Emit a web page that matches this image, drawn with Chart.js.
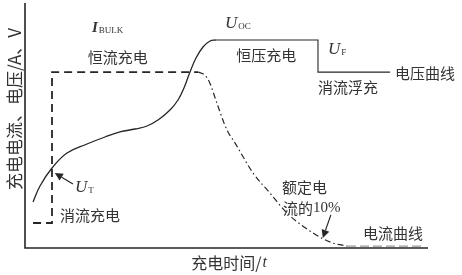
<!DOCTYPE html>
<html>
<head>
<meta charset="utf-8">
<script src="https://cdn.jsdelivr.net/npm/chart.js@4/dist/chart.umd.min.js"></script>
<style>
  html, body { margin: 0; padding: 0; background: #fff; }
  #wrap { width: 462px; height: 275px; }
</style>
</head>
<body>
<div id="wrap"><canvas id="c" width="462" height="275"></canvas></div>
<script>
// Charging profile: time (arbitrary units 0-100) vs. relative level (0-100)

// Voltage curve: trickle -> constant current rise
const voltageRiseX = [1.99, 3.72, 6.70, 10.42, 15.38, 19.85, 23.57, 27.30, 30.27, 33.00, 35.98, 37.97, 39.45, 40.94, 42.43, 44.17, 45.91, 47.39];
const voltageRiseY = [18.78, 25.31, 32.65, 38.78, 42.45, 45.31, 47.35, 48.57, 49.80, 52.24, 56.33, 60.41, 65.31, 71.84, 77.55, 82.04, 84.49, 84.90];

// Voltage: constant-voltage plateau (U_OC), then step down to float (U_F)
const voltageHoldX = [47.39, 72.7, 72.7, 90.6];
const voltageHoldY = [84.9, 84.9, 71.8, 71.8];

// Current: trickle level, jump to bulk current I_BULK
const currentBulkX = [2.0, 6.7, 6.7, 43.0];
const currentBulkY = [10.2, 10.2, 71.8, 71.8];

// Current: taper during constant-voltage phase
const currentTaperX = [43.0, 44.6, 45.8, 47.6, 50.1, 52.1, 56.6, 60.8, 65.0, 71.5, 76.4, 79.9];
const currentTaperY = [71.8, 70.6, 67.6, 59.2, 48.2, 42.9, 30.6, 22.4, 14.3, 6.1, 2.0, 0.8];

// Current: residual float current
const currentFloatX = [79.9, 98.8];
const currentFloatY = [0.8, 0.8];

const pts = (xs, ys) => xs.map((v, i) => ({ x: v, y: ys[i] }));

const INK = '#262626';
const TEXT = '#333333';
const CJK = '"Noto Sans CJK SC", "Noto Sans", sans-serif';
const SERIF = '"Liberation Serif", "DejaVu Serif", serif';

// Text notes placed in data units
const notes = [
  { t: '恒流充电', x: 15.6, y: 78.0 },
  { t: '恒压充电', x: 52.4, y: 78.8 },
  { t: '电压曲线', x: 91.8, y: 71.4 },
  { t: '消流浮充', x: 72.7, y: 65.7 },
  { t: '消流充电', x: 8.7, y: 13.5 },
  { t: '额定电', x: 63.8, y: 24.9 },
  { t: '流的10%', x: 64.0, y: 16.3 },
  { t: '电流曲线', x: 83.9, y: 6.1 }
];
// Symbol labels with subscripts
const symbols = [
  { main: 'I', sub: 'BULK', x: 16.6, y: 90.2, bold: true },
  { main: 'U', sub: 'OC', x: 49.6, y: 91.8 },
  { main: 'U', sub: 'F', x: 75.2, y: 81.2 },
  { main: 'U', sub: 'T', x: 12.4, y: 24.9 }
];
// Pointer arrows: from -> to
const arrows = [
  { x1: 11.9, y1: 26.1, x2: 7.4, y2: 30.6 },
  { x1: 75.9, y1: 13.5, x2: 73.9, y2: 4.1 }
];

const decorations = {
  id: 'decorations',
  afterDatasetsDraw(chart) {
    const { ctx, chartArea: a, scales: { x, y } } = chart;
    ctx.save();

    // axes
    ctx.strokeStyle = INK;
    ctx.lineWidth = 1.6;
    ctx.beginPath();
    ctx.moveTo(a.left, a.top);
    ctx.lineTo(a.left, a.bottom);
    ctx.lineTo(a.right, a.bottom);
    ctx.stroke();

    // notes
    ctx.fillStyle = TEXT;
    ctx.textBaseline = 'middle';
    ctx.textAlign = 'left';
    notes.forEach(n => {
      const parts = n.t.split(/(\d+%?)/);
      let px = x.getPixelForValue(n.x);
      const py = y.getPixelForValue(n.y);
      parts.forEach(p => {
        if (!p) return;
        ctx.font = /\d/.test(p) ? '15px ' + SERIF : '15px ' + CJK;
        ctx.fillText(p, px, py);
        px += ctx.measureText(p).width;
      });
    });

    // symbols
    symbols.forEach(s => {
      const px = x.getPixelForValue(s.x);
      const py = y.getPixelForValue(s.y);
      ctx.textBaseline = 'alphabetic';
      ctx.font = (s.bold ? 'italic bold 15px ' : 'italic 17px ') + SERIF;
      ctx.fillText(s.main, px, py + 5);
      const w = ctx.measureText(s.main).width;
      ctx.font = '9px ' + SERIF;
      ctx.fillText(s.sub, px + w + 1, py + 6);
    });

    // arrows
    ctx.strokeStyle = INK;
    ctx.fillStyle = INK;
    ctx.lineWidth = 1.2;
    arrows.forEach(r => {
      const x1 = x.getPixelForValue(r.x1), y1 = y.getPixelForValue(r.y1);
      const x2 = x.getPixelForValue(r.x2), y2 = y.getPixelForValue(r.y2);
      const ang = Math.atan2(y2 - y1, x2 - x1);
      const L = 8, W = 4;
      const bx = x2 - L * Math.cos(ang), by = y2 - L * Math.sin(ang);
      ctx.beginPath();
      ctx.moveTo(x1, y1);
      ctx.lineTo(bx, by);
      ctx.stroke();
      ctx.beginPath();
      ctx.moveTo(x2, y2);
      ctx.lineTo(bx + W * Math.sin(ang), by - W * Math.cos(ang));
      ctx.lineTo(bx - W * Math.sin(ang), by + W * Math.cos(ang));
      ctx.closePath();
      ctx.fill();
    });

    // axis titles
    ctx.fillStyle = TEXT;
    ctx.textBaseline = 'middle';
    ctx.font = '16px ' + CJK;
    const xt = '充电时间/';
    const wx = ctx.measureText(xt).width;
    ctx.font = 'italic 16px ' + SERIF;
    const wt = ctx.measureText('t').width;
    const cx = (a.left + a.right) / 2 + 2;
    ctx.textAlign = 'left';
    ctx.font = '16px ' + CJK;
    ctx.fillText(xt, cx - (wx + wt) / 2, 263);
    ctx.font = 'italic 16px ' + SERIF;
    ctx.fillText('t', cx - (wx + wt) / 2 + wx + 1, 263);

    ctx.translate(15, 109);
    ctx.rotate(-Math.PI / 2);
    ctx.textAlign = 'center';
    ctx.font = '17px ' + CJK;
    ctx.fillText('充电电流、电压/A、V', 0, 0);

    ctx.restore();
  }
};

const line = (data, opts) => Object.assign({
  data, borderColor: INK, borderWidth: 1.3, pointRadius: 0, fill: false, clip: false, tension: 0
}, opts);

new Chart(document.getElementById('c'), {
  type: 'line',
  data: {
    datasets: [
      line(pts(voltageRiseX, voltageRiseY), { tension: 0.4 }),
      line(pts(voltageHoldX, voltageHoldY), { borderWidth: 1.1 }),
      line(pts(currentBulkX, currentBulkY), { borderWidth: 1.8, borderDash: [8, 5] }),
      line(pts(currentTaperX, currentTaperY), { cubicInterpolationMode: 'monotone', borderWidth: 1.2, borderDash: [6, 3, 1.5, 3] }),
      line(pts(currentFloatX, currentFloatY), { borderColor: '#9a9a9a', borderWidth: 1.2, borderDash: [9, 4] })
    ]
  },
  options: {
    responsive: false,
    animation: false,
    layout: { padding: { left: 25, right: 34, top: 3, bottom: 27 } },
    plugins: { legend: { display: false }, tooltip: { enabled: false } },
    scales: {
      x: { type: 'linear', min: 0, max: 100, display: false },
      y: { type: 'linear', min: 0, max: 100, display: false }
    }
  },
  plugins: [decorations]
});
</script>
</body>
</html>
